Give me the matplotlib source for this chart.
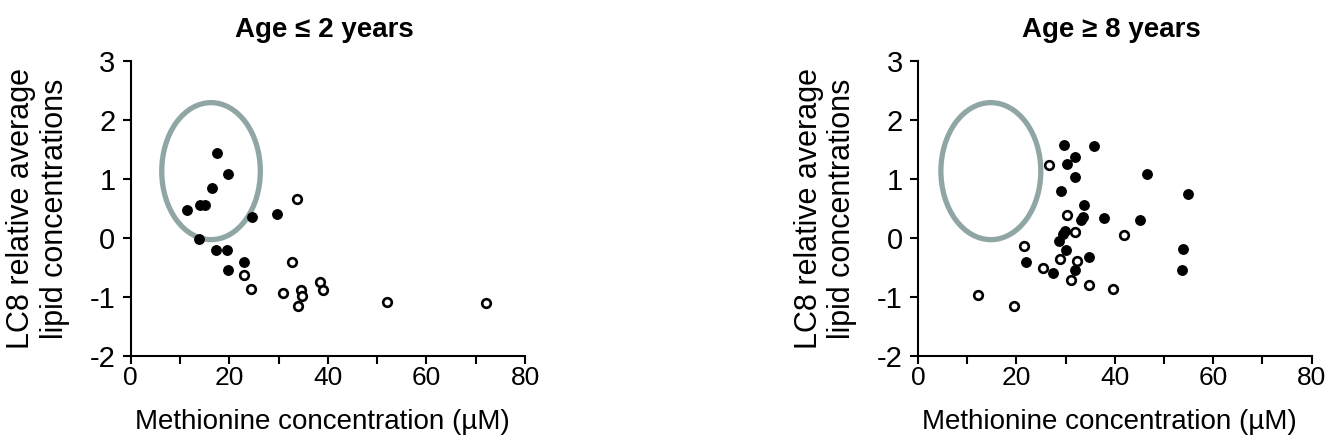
import matplotlib
matplotlib.use("Agg")
import matplotlib.pyplot as plt
from matplotlib.patches import Ellipse

# ---- data ----
young_filled_x = [17.6, 19.7, 16.4, 11.5, 14.1, 15.1, 24.7, 29.6, 13.9, 17.3, 19.6, 23.0, 19.8]
young_filled_y = [1.44, 1.09, 0.84, 0.48, 0.56, 0.56, 0.36, 0.40, -0.02, -0.20, -0.20, -0.41, -0.55]
young_open_x = [33.7, 32.8, 23.0, 24.5, 30.8, 34.5, 34.7, 33.9, 38.5, 39.1, 51.9, 72.0]
young_open_y = [0.65, -0.41, -0.63, -0.86, -0.94, -0.89, -0.99, -1.16, -0.75, -0.89, -1.08, -1.11]

old_filled_x = [29.7, 35.8, 31.9, 30.2, 32.0, 46.5, 54.9, 29.1, 33.7, 33.5, 33.1, 37.7,
                45.1, 29.9, 29.5, 28.7, 30.0, 53.9, 34.8, 22.0, 27.5, 31.8, 53.7]
old_filled_y = [1.57, 1.55, 1.37, 1.25, 1.03, 1.08, 0.74, 0.79, 0.56, 0.35, 0.30, 0.34,
                0.31, 0.11, 0.07, -0.06, -0.20, -0.18, -0.33, -0.41, -0.59, -0.55, -0.55]
old_open_x = [26.7, 30.2, 31.9, 41.9, 21.6, 28.9, 32.4, 25.5, 31.1, 34.8, 39.7, 12.1, 19.6]
old_open_y = [1.23, 0.38, 0.10, 0.05, -0.14, -0.36, -0.40, -0.51, -0.72, -0.79, -0.86, -0.97, -1.15]

titles = ["Age \u2264 2 years", "Age \u2265 8 years"]
xlabel = "Methionine concentration (\u00b5M)"
ylabel = "LC8 relative average\nlipid concentrations"

# highlighted region (center x, center y, width, height) in data units
young_ring = (16.3, 1.13, 20.0, 2.32)
old_ring = (14.8, 1.13, 20.3, 2.32)

RING_COLOR = "#8FA6A4"

plt.rcParams["font.family"] = ["Liberation Sans", "DejaVu Sans"]
plt.rcParams["axes.unicode_minus"] = False


def draw_panel(ax, fx, fy, ox, oy, ring, title):
    ax.plot(fx, fy, "o", color="black", markersize=6.8, linestyle="none")
    ax.plot(ox, oy, "o", markerfacecolor="white", markeredgecolor="black",
            markeredgewidth=1.9, markersize=6.2, linestyle="none")
    cx, cy, w, h = ring
    ax.add_patch(Ellipse((cx, cy), w, h, fill=False, edgecolor=RING_COLOR, linewidth=3.8))

    ax.set_xlim(0, 80)
    ax.set_ylim(-2, 3)
    ax.set_xticks([0, 20, 40, 60, 80])
    ax.set_xticks([10, 30, 50, 70], minor=True)
    ax.set_yticks([-2, -1, 0, 1, 2, 3])
    ax.spines["top"].set_visible(False)
    ax.spines["right"].set_visible(False)
    for s in ("left", "bottom"):
        ax.spines[s].set_linewidth(1.5)
    ax.tick_params(axis="both", which="both", direction="out", length=6, width=1.5)
    ax.tick_params(axis="x", which="both", pad=1, labelsize=19)
    ax.tick_params(axis="y", pad=5, labelsize=21)

    ax.set_xlabel(xlabel, fontsize=20)
    ax.xaxis.set_label_coords(0.485, -0.178)
    ax.set_ylabel(ylabel, fontsize=22, linespacing=1.15)
    ax.yaxis.set_label_coords(-0.155, 0.5)

    ax.text(0.49, 1.081, title, transform=ax.transAxes, ha="center", va="baseline",
            fontweight="bold", fontsize=20)


fig = plt.figure(figsize=(13.39, 4.47), dpi=100)
ax1 = fig.add_axes([0.0976, 0.2036, 0.2945, 0.6606])
ax2 = fig.add_axes([0.6856, 0.2036, 0.2940, 0.6606])

draw_panel(ax1, young_filled_x, young_filled_y, young_open_x, young_open_y, young_ring, titles[0])
draw_panel(ax2, old_filled_x, old_filled_y, old_open_x, old_open_y, old_ring, titles[1])

fig.savefig("out.png", dpi=100)
